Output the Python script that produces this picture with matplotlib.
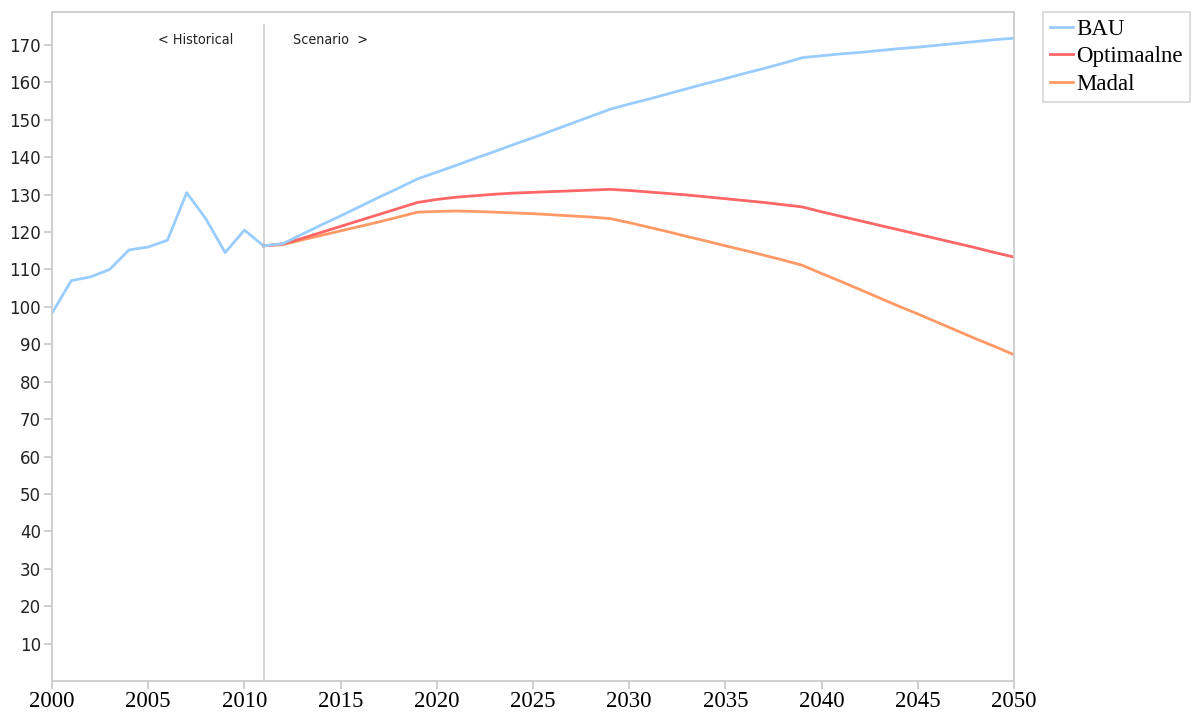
import matplotlib
matplotlib.use("Agg")
import matplotlib.pyplot as plt

hist_years = [2000, 2001, 2002, 2003, 2004, 2005, 2006, 2007, 2008, 2009, 2010, 2011]
hist_vals = [98.3, 107.0, 108.0, 110.0, 115.2, 116.0, 117.8, 130.5, 123.5, 114.5, 120.5, 116.3]

scen_years = [2011, 2012, 2013, 2014, 2015, 2016, 2017, 2018, 2019, 2020,
              2021, 2022, 2023, 2024, 2025, 2026, 2027, 2028, 2029, 2030,
              2031, 2032, 2033, 2034, 2035, 2036, 2037, 2038, 2039, 2040,
              2041, 2042, 2043, 2044, 2045, 2046, 2047, 2048, 2049, 2050]
bau = [116.3, 116.9, 119.4, 121.9, 124.3, 126.8, 129.3, 131.7, 134.2, 136.0,
       137.8, 139.7, 141.5, 143.4, 145.2, 147.1, 149.0, 150.9, 152.8, 154.2,
       155.5, 156.9, 158.3, 159.7, 161.0, 162.4, 163.7, 165.1, 166.6, 167.1,
       167.6, 168.0, 168.5, 169.0, 169.4, 169.9, 170.4, 170.9, 171.4, 171.8]
optimaalne = [116.3, 116.8, 118.3, 119.9, 121.5, 123.1, 124.7, 126.3, 127.9, 128.7,
              129.3, 129.7, 130.1, 130.4, 130.6, 130.8, 131.0, 131.2, 131.4, 131.1,
              130.7, 130.3, 129.9, 129.4, 128.9, 128.4, 127.9, 127.3, 126.7, 125.4,
              124.2, 123.0, 121.8, 120.6, 119.4, 118.2, 117.0, 115.8, 114.5, 113.3]
madal = [116.3, 116.6, 117.9, 119.1, 120.3, 121.5, 122.7, 124.0, 125.3, 125.5,
         125.6, 125.5, 125.3, 125.1, 124.9, 124.6, 124.3, 124.0, 123.6, 122.5,
         121.3, 120.1, 118.8, 117.6, 116.3, 115.1, 113.8, 112.5, 111.1, 108.9,
         106.8, 104.6, 102.4, 100.2, 98.1, 95.9, 93.7, 91.5, 89.4, 87.2]

series_names = ["BAU", "Optimaalne", "Madal"]
colors = ["#99CCFF", "#FF6666", "#FF9966"]
x_ticks = [2000, 2005, 2010, 2015, 2020, 2025, 2030, 2035, 2040, 2045, 2050]
y_ticks = [10, 20, 30, 40, 50, 60, 70, 80, 90, 100, 110, 120, 130, 140, 150, 160, 170]

fig = plt.figure(figsize=(11.95, 7.14), dpi=100)
ax = fig.add_axes([52/1195, 1-681/714, (1014-52)/1195, (681-12)/714])

ax.plot(hist_years, hist_vals, color=colors[0], lw=2)
ax.plot(scen_years, madal, color=colors[2], lw=2, label=series_names[2])
ax.plot(scen_years, optimaalne, color=colors[1], lw=2, label=series_names[1])
ax.plot(scen_years, bau, color=colors[0], lw=2, label=series_names[0])

ax.vlines(2011, 0, 175.6, color="#d0d0d0", lw=1.3, zorder=0)
ax.text(2011 - 1.6, 171.3, "< Historical", ha="right", va="center",
        fontsize=10.3, family="DejaVu Sans", fontstretch="condensed", color="#222222")
ax.text(2011 + 1.55, 171.3, "Scenario  >", ha="left", va="center",
        fontsize=10.3, family="DejaVu Sans", fontstretch="condensed", color="#222222")

ax.set_xlim(2000, 2050)
ax.set_ylim(0, 178.8)
ax.set_xticks(x_ticks)
ax.set_xticklabels([str(t) for t in x_ticks], family="Liberation Serif", fontsize=16.5)
ax.set_yticks(y_ticks)
ax.set_yticklabels([str(t) for t in y_ticks], family="DejaVu Sans", fontsize=12, color="#222222")
for s in ax.spines.values():
    s.set_color("#cccccc")
    s.set_linewidth(1.3)
ax.tick_params(axis="both", color="#cccccc", width=1.3, length=6)
ax.tick_params(axis="y", pad=2)
ax.tick_params(axis="x", pad=1)

handles, labels = ax.get_legend_handles_labels()
order = [2, 1, 0]
leg = fig.legend([handles[i] for i in order], [labels[i] for i in order],
                 loc="upper left", bbox_to_anchor=(1043/1195, 1-12/714),
                 prop={"family": "Liberation Serif", "size": 16.5},
                 frameon=True, fancybox=False, edgecolor="#cccccc",
                 handlelength=1.0, handletextpad=0.15, borderpad=0.3,
                 labelspacing=0.28, borderaxespad=0)
leg.get_frame().set_linewidth(1.2)

fig.savefig("out.png", dpi=100)
